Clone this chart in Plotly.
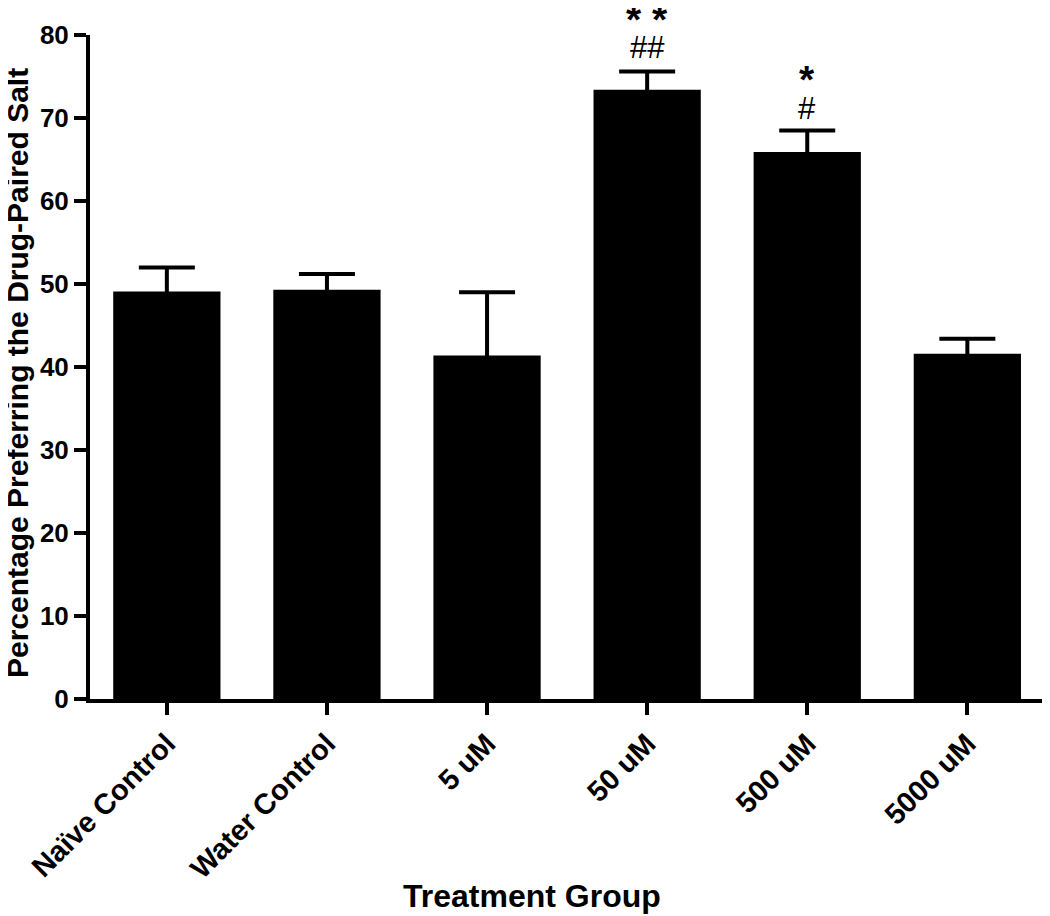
import plotly.graph_objects as go

categories = ["Naïve Control", "Water Control", "5 uM", "50 uM", "500 uM", "5000 uM"]
means = [49.1, 49.3, 41.4, 73.4, 65.9, 41.6]
sems = [2.9, 1.9, 7.6, 2.2, 2.6, 1.8]
y_ticks = [0, 10, 20, 30, 40, 50, 60, 70, 80]
# (label, category index, data-height of label centre)
sig_labels = [("* *", 3, 81.9), ("##", 3, 78.5), ("*", 4, 74.6), ("#", 4, 71.2)]

FONT = "Liberation Sans, Arial, sans-serif"
xpos = list(range(len(categories)))
Y_MAX = 80

# page has an 8px body margin; figure sized to fill the rest of the window
W, H = 1042, 908
L, R, T, B = 82, 1, 27, 217
plot_w = W - L - R
plot_h = H - T - B

fig = go.Figure()
fig.add_trace(go.Bar(
    x=xpos, y=means, width=0.67,
    marker=dict(color="black", line=dict(width=0)),
    error_y=dict(type="data", array=sems, symmetric=True,
                 color="black", thickness=4, width=28, visible=True),
))

annotations = []
for text, xi, yv in sig_labels:
    bold = "*" in text
    annotations.append(dict(
        x=xi, y=yv / Y_MAX, xref="x", yref="paper", xanchor="center", yanchor="middle",
        text=f"<b>{text}</b>" if bold else text,
        showarrow=False, font=dict(family=FONT, size=39 if bold else 31, color="black"),
    ))

# x-axis title
annotations.append(dict(
    x=(532 - 8 - L) / plot_w, y=-B / plot_h, xref="paper", yref="paper",
    text="<b>Treatment Group</b>", showarrow=False, xanchor="center", yanchor="bottom",
    font=dict(family=FONT, size=32, color="black"),
))
# y-axis title
annotations.append(dict(
    x=(17 - 8 - L) / plot_w, y=(H - B - (373 - 8)) / plot_h, xref="paper", yref="paper",
    text="<b>Percentage Preferring the Drug-Paired Salt</b>", showarrow=False,
    textangle=-90, xanchor="center", yanchor="middle",
    font=dict(family=FONT, size=30, color="black"),
))

fig.update_layout(
    width=W, height=H,
    margin=dict(l=L, r=R, t=T, b=B),
    paper_bgcolor="white", plot_bgcolor="white",
    showlegend=False,
    font=dict(family=FONT, color="black"),
    xaxis=dict(
        range=[-0.48, 5.51], tickmode="array", tickvals=xpos,
        ticktext=[f"<b>{c}</b>" for c in categories],
        tickangle=-45, tickfont=dict(size=29, family=FONT, color="black"),
        ticks="outside", ticklen=12, tickwidth=4, tickcolor="black",
        showline=True, linecolor="black", linewidth=4, showgrid=False, zeroline=False,
        automargin=False,
    ),
    yaxis=dict(
        range=[0, Y_MAX], tickmode="array", tickvals=y_ticks,
        ticktext=[f"<b>{t}</b>" for t in y_ticks],
        tickfont=dict(size=26, family=FONT, color="black"),
        ticks="outside", ticklen=12, tickwidth=4, tickcolor="black",
        showline=True, linecolor="black", linewidth=4, showgrid=False, zeroline=False,
        automargin=False,
    ),
    annotations=annotations,
)

fig.write_html("out.html")
